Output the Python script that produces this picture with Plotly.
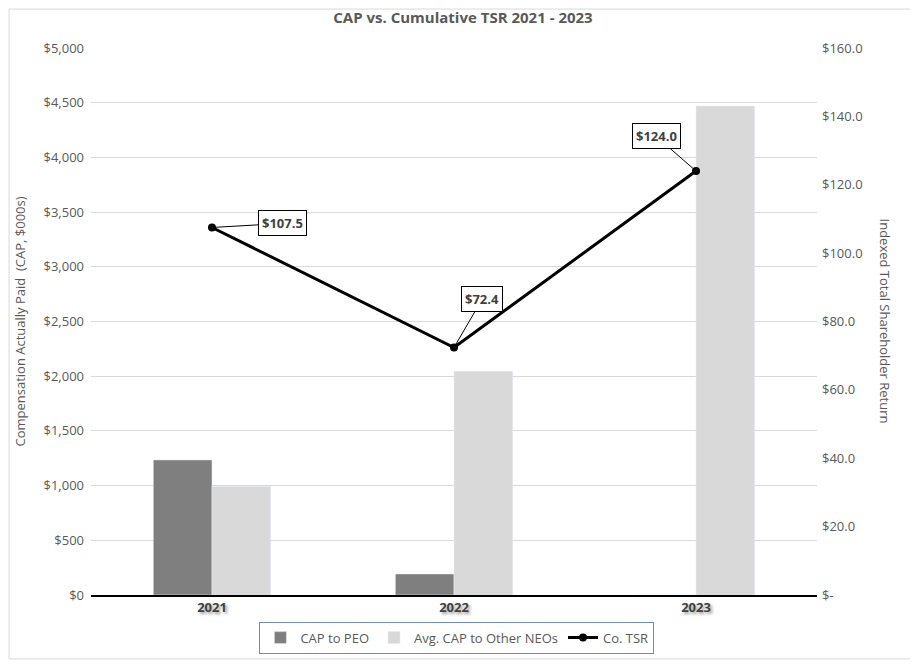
import plotly.graph_objects as go

years = ["2021", "2022", "2023"]
cap_peo = [1235, 192, 0]
cap_neo = [992, 2045, 4470]
tsr = [107.5, 72.4, 124.0]
tsr_labels = ["$107.5", "$72.4", "$124.0"]
label_offsets = [(70, -4), (28, -48), (-40, -35)]

left_ticks = list(range(0, 5001, 500))
left_text = ["$" + format(v, ",") for v in left_ticks]
right_ticks = list(range(0, 161, 20))
right_text = ["$-" if v == 0 else "$%.1f" % v for v in right_ticks]

FONT = "Liberation Sans Narrow, Open Sans, sans-serif"
GRAY = "#595959"

fig = go.Figure()
fig.add_trace(go.Bar(x=years, y=cap_peo, name="CAP to PEO", marker_color="#7f7f7f"))
fig.add_trace(go.Bar(x=years, y=cap_neo, name="Avg. CAP to Other NEOs", marker_color="#d9d9d9"))
fig.add_trace(go.Scatter(x=years, y=tsr, name="Co. TSR", yaxis="y2", mode="lines+markers",
                         line=dict(color="black", width=3), marker=dict(color="black", size=8)))

for i, (v, t, (ax, ay)) in enumerate(zip(tsr, tsr_labels, label_offsets)):
    fig.add_annotation(x=i, y=v, yref="y2", text="<b>" + t + "</b>", showarrow=True,
                       arrowhead=0, arrowwidth=1, arrowcolor="black", ax=ax, ay=ay,
                       bordercolor="black", borderwidth=1, borderpad=3, bgcolor="white",
                       font=dict(family=FONT, size=13, color="#404040"), standoff=0)

fig.add_annotation(text="Indexed Total Shareholder Return", textangle=90, xref="paper", yref="paper",
                   x=1.095, y=0.5, showarrow=False, xanchor="center", yanchor="middle",
                   font=dict(family=FONT, size=13, color=GRAY))

fig.add_shape(type="rect", xref="paper", yref="paper", x0=-0.1129, x1=1.1309, y0=-0.1168, y1=1.0712,
              line=dict(color="#d9d9d9", width=1), layer="below")

fig.update_layout(
    width=910, height=657,
    margin=dict(l=83, r=101, t=40, b=69),
    paper_bgcolor="white", plot_bgcolor="white",
    font=dict(family=FONT, size=13, color=GRAY),
    title=dict(text="<b>CAP vs. Cumulative TSR 2021 - 2023</b>", x=0.5, xref="container", y=0.985,
               yanchor="middle", font=dict(family=FONT, size=15, color=GRAY)),
    barmode="group", bargap=0.515, bargroupgap=0,
    xaxis=dict(type="category", showline=True, linecolor="black", linewidth=1.5, ticks="",
               tickfont=dict(family=FONT, size=13, color="#404040", weight="bold",
                             shadow="2px 2px 3px #9a9a9a")),
    yaxis=dict(range=[0, 5000], tickvals=left_ticks, ticktext=left_text, showgrid=True,
               gridcolor="#d9d9d9", gridwidth=1, zeroline=False, ticklabelstandoff=6,
               title=dict(text="Compensation Actually Paid  (CAP, $000s)", standoff=14,
                          font=dict(family=FONT, size=13, color=GRAY))),
    yaxis2=dict(range=[0, 160], overlaying="y", side="right", tickvals=right_ticks, ticktext=right_text,
                showgrid=False, zeroline=False, ticklabelstandoff=4),
    legend=dict(orientation="h", x=0.504, y=-0.076, xanchor="center", yanchor="middle",
                bordercolor="#6f8db9", borderwidth=1, font=dict(family=FONT, size=13, color=GRAY),
                traceorder="normal"),
)

fig.write_html("out.html")
